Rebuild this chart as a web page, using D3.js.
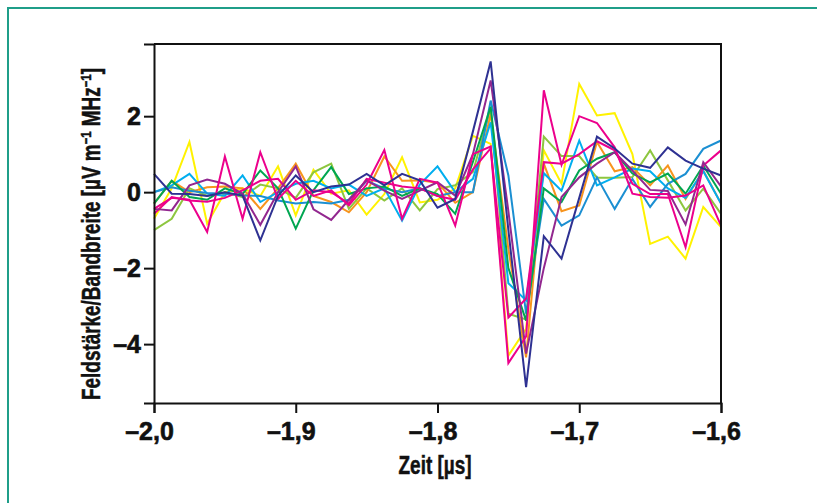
<!DOCTYPE html>
<html>
<head>
<meta charset="utf-8">
<script src="https://cdn.jsdelivr.net/npm/d3@7"></script>
<style>
  body { margin: 0; background: #fff; }
  svg { display: block; }
</style>
</head>
<body>
<div id="chart"></div>
<script>
// sample times in µs (12.5 ns spacing)
const times = [-2.0, -1.9875, -1.975, -1.9625, -1.95, -1.9375, -1.925, -1.9125, -1.9, -1.8875, -1.875,
  -1.8625, -1.85, -1.8375, -1.825, -1.8125, -1.8, -1.7875, -1.775, -1.7625, -1.75, -1.7375,
  -1.725, -1.7125, -1.7, -1.6875, -1.675, -1.6625, -1.65, -1.6375, -1.625, -1.6125, -1.6];

const xTicks = [-2.0, -1.9, -1.8, -1.7, -1.6];
const yTicks = [-4, -2, 0, 2];

// field strength / bandwidth per antenna
const navy = [0.48, -0.04, -0.05, -0.1, 0.0, -0.09, -1.27, -0.1, 0.44, 0.0, 0.15, 0.2, 0.48, 0.18, 0.48, 0.31, -0.41, -0.18, 1.6, 3.44, -1.0, -5.13, -1.16, -1.75, -0.15, 1.46, 1.15, 0.75, 0.64, 1.18, 0.83, 0.62, 0.44];
const purple = [-0.44, -0.48, 0.18, 0.33, 0.22, -0.04, -0.86, 0.0, 0.68, -0.45, -0.73, -0.2, 0.31, 0.04, -0.18, 0.04, 0.26, -0.09, 1.0, 2.94, -0.5, -4.25, -2.0, -0.13, 0.39, 0.75, 1.05, 0.57, 0.06, 0.03, -0.85, 0.79, 0.15];
const magentaA = [-0.44, -0.15, -0.2, -1.05, 0.94, -0.7, 1.05, -0.18, 0.3, -0.1, 0.05, -0.35, 0.2, 1.11, -0.7, 0.35, 0.25, -0.88, 1.0, 1.2, -4.5, -3.8, 2.68, 0.72, 2.0, 1.82, 1.18, -0.04, -0.13, -0.15, -0.09, 0.18, -0.88];
const magentaB = [-0.57, -0.13, -0.22, -0.25, -0.15, 0.05, 0.3, 0.35, -0.2, 0.05, 0.0, -0.3, 0.35, 0.25, 0.15, 0.1, -0.1, -0.2, 0.6, 1.15, -3.3, -2.8, 0.79, 0.75, 1.0, 1.34, 1.1, 0.22, -0.05, -0.05, -1.45, 0.7, 1.1];
const yellow = [-0.7, 0.1, 1.32, -0.83, 0.0, 0.1, -0.1, 0.68, -0.61, 0.59, -0.04, 0.05, -0.59, -0.05, 0.92, -0.27, -0.2, 0.1, 1.48, 1.27, -4.3, -3.6, 1.1, 0.22, 2.85, 2.02, 2.08, 1.0, -1.36, -1.17, -1.75, -0.39, -0.92];
const orange = [-0.3, 0.3, 0.0, 0.13, 0.15, 0.1, -0.44, 0.1, 0.75, -0.1, -0.26, -0.53, 0.0, 0.94, 0.3, 0.31, 0.25, -0.28, 0.0, 2.06, -1.5, -4.35, 0.75, -0.5, -0.35, 1.32, 0.55, 0.66, 0.18, 0.7, -0.18, 0.57, -0.3];
const lightGreen = [-1.0, -0.7, 0.1, -0.1, 0.0, -0.13, 0.2, 0.1, -0.15, 0.52, 0.75, -0.44, 0.1, -0.22, 0.1, -0.48, 0.08, 0.18, 0.53, 2.2, -3.2, -3.35, 1.46, 0.95, 0.95, 0.38, 0.38, 0.4, 1.1, 0.31, -0.48, 0.09, -0.57];
const green = [-0.3, 0.3, -0.13, -0.2, 0.1, -0.05, 0.57, 0.1, -0.96, 0.05, 0.66, -0.05, 0.1, 0.15, -0.1, 0.1, -0.05, -0.57, 0.8, 2.25, -2.0, -3.38, 0.1, -0.26, 0.57, 0.88, 1.05, 0.49, 0.26, 0.49, -0.04, 0.7, -0.04];
const cyan = [0.0, 0.18, 0.48, -0.04, -0.1, 0.44, -0.26, 0.0, 0.22, 0.3, 0.1, 0.2, -0.1, 0.1, -0.75, 0.2, 0.68, 0.0, 0.35, 1.84, -2.4, -2.85, 0.5, 0.04, 1.36, 0.18, 0.39, 0.62, 0.55, 0.1, -0.15, 0.55, -0.3];
const blue = [0.0, 0.13, 0.04, -0.02, -0.04, -0.09, -0.1, -0.22, -0.3, -0.26, -0.3, -0.2, 0.3, 0.1, 0.0, 0.1, -0.1, 0.0, 0.0, 2.41, 0.44, -3.2, -0.18, -0.88, -0.61, 0.39, -0.44, 0.35, -0.39, 0.22, 0.48, 1.14, 1.36];

const series = [
  { values: yellow, color: "#fff200" },
  { values: lightGreen, color: "#8dc63f" },
  { values: orange, color: "#f7941d" },
  { values: cyan, color: "#00aeef" },
  { values: blue, color: "#1b8fd2" },
  { values: green, color: "#00a651" },
  { values: magentaB, color: "#ec008c" },
  { values: purple, color: "#92278f" },
  { values: magentaA, color: "#ec008c" },
  { values: navy, color: "#2e3192" }
];

const width = 817, height = 503;
const plotLeft = 154, plotRight = 721, plotTop = 44, plotBottom = 403;
const font = "'Liberation Sans Narrow', 'Arial Narrow', 'Liberation Sans', sans-serif";

const svg = d3.select("#chart").append("svg")
  .attr("width", width)
  .attr("height", height);

// teal frame round the figure
svg.append("rect")
  .attr("x", 8)
  .attr("y", 8)
  .attr("width", 830)
  .attr("height", 520)
  .attr("fill", "none")
  .attr("stroke", "#1f9e89")
  .attr("stroke-width", 2);

const x = d3.scaleLinear().domain([-2.0, -1.6]).range([plotLeft, plotRight]);
const y = d3.scaleLinear().domain([-5.55, 3.9]).range([plotBottom, plotTop]);

const de = d3.formatLocale({ decimal: ",", thousands: ".", grouping: [3], currency: ["", " €"], minus: "\u2013" });

const line = d3.line()
  .x((d, i) => x(times[i]))
  .y(d => y(d));

svg.append("g")
  .selectAll("path")
  .data(series)
  .enter().append("path")
  .attr("d", d => line(d.values))
  .attr("fill", "none")
  .attr("stroke", d => d.color)
  .attr("stroke-width", 2)
  .attr("stroke-linejoin", "miter");

// box top and right
svg.append("path")
  .attr("d", `M${plotLeft},${plotTop}H${plotRight}V${plotBottom}`)
  .attr("fill", "none")
  .attr("stroke", "#111")
  .attr("stroke-width", 2);

const xAxis = svg.append("g")
  .attr("transform", `translate(0,${plotBottom})`)
  .call(d3.axisBottom(x).tickValues(xTicks).tickSize(10).tickPadding(9).tickFormat(de.format(".1f")));

const yAxis = svg.append("g")
  .attr("transform", `translate(${plotLeft},0)`)
  .call(d3.axisLeft(y).tickValues(yTicks).tickSize(10).tickPadding(3).tickFormat(de.format("d")));

[xAxis, yAxis].forEach(g => {
  g.select(".domain").attr("stroke", "#111").attr("stroke-width", 2);
  g.selectAll(".tick line").attr("stroke", "#111").attr("stroke-width", 2);
  g.selectAll(".tick text")
    .attr("fill", "#111")
    .attr("stroke", "#111")
    .attr("stroke-width", 0.6)
    .style("font-family", font)
    .style("font-weight", "bold")
    .style("font-size", "25px");
});
xAxis.selectAll(".tick text").attr("dx", -5);

// scale a label horizontally so it takes the width of the original
function fitWidth(sel, w) {
  const n = sel.node().getBBox().width;
  return w / n;
}

const xTitle = svg.append("text")
  .attr("text-anchor", "middle")
  .attr("fill", "#111")
  .attr("stroke", "#111")
  .attr("stroke-width", 0.5)
  .style("font-family", font)
  .style("font-weight", "bold")
  .style("font-size", "25px")
  .text("Zeit [µs]");
const sx = fitWidth(xTitle, 73);
xTitle.attr("transform", `translate(435,474) scale(${sx},1)`);

const yTitle = svg.append("text")
  .attr("text-anchor", "middle")
  .attr("fill", "#111")
  .attr("stroke", "#111")
  .attr("stroke-width", 0.5)
  .style("font-family", font)
  .style("font-weight", "bold")
  .style("font-size", "25px");
yTitle.append("tspan").text("Feldstärke/Bandbreite [µV m");
yTitle.append("tspan").attr("dy", -9).style("font-size", "15px").text("\u22121");
yTitle.append("tspan").attr("dy", 9).text(" MHz");
yTitle.append("tspan").attr("dy", -9).style("font-size", "15px").text("\u22121");
yTitle.append("tspan").attr("dy", 9).text("]");
const sy = fitWidth(yTitle, 332);
yTitle.attr("transform", `translate(100,234) rotate(-90) scale(${sy},1)`);
</script>
</body>
</html>
